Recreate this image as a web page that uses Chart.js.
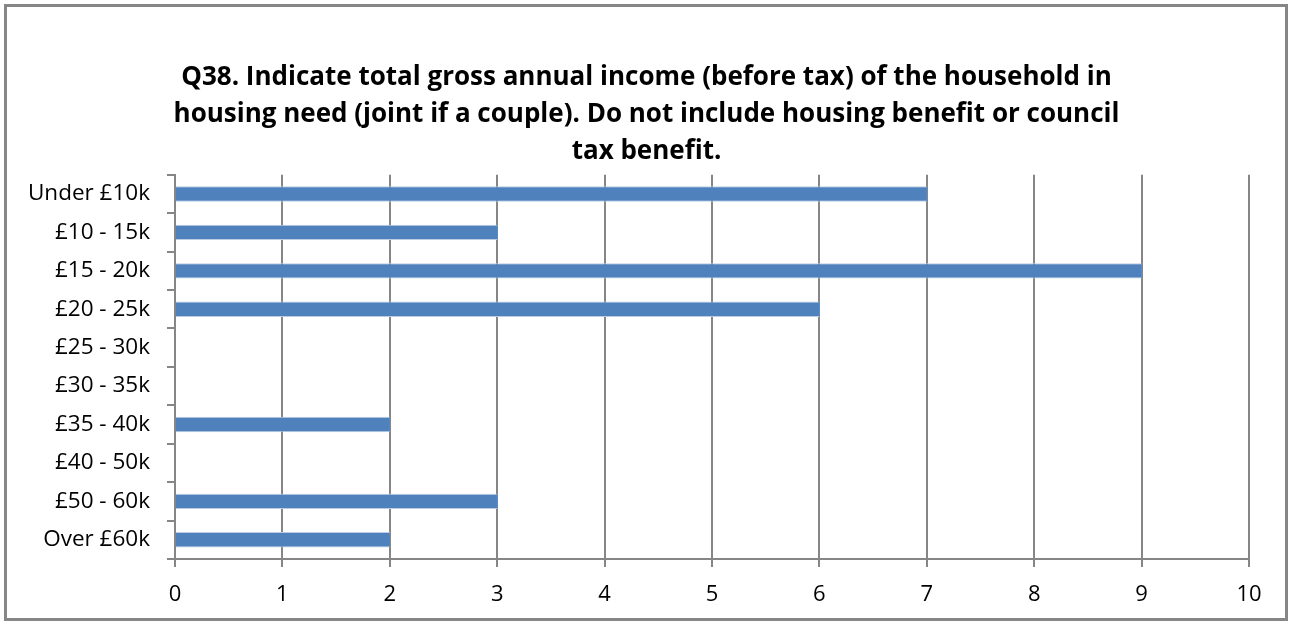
<!DOCTYPE html>
<html>
<head>
<meta charset="utf-8">
<script src="https://cdn.jsdelivr.net/npm/chart.js@4"></script>
<style>
  html, body { margin: 0; padding: 0; background: #fff; }
  #wrap { position: relative; width: 1293px; height: 626px; }
</style>
</head>
<body>
<div id="wrap"><canvas id="incomeChart" width="1293" height="626"></canvas></div>
<script>
const categories = ['Under £10k', '£10 - 15k', '£15 - 20k', '£20 - 25k', '£25 - 30k',
  '£30 - 35k', '£35 - 40k', '£40 - 50k', '£50 - 60k', 'Over £60k'];
const responses = [7, 3, 9, 6, 0, 0, 2, 0, 3, 2];
const axisMin = 0;
const axisMax = 10;
const titleLines = [
  'Q38. Indicate total gross annual income (before tax) of the household in',
  'housing need (joint if a couple). Do not include housing benefit or council',
  'tax benefit.'
];

const FONT = "'Open Sans', 'Noto Sans', sans-serif";
const GRID = '#868686';

// outer frame round the whole chart
const frame = {
  id: 'frame',
  afterDraw: function (chart) {
    const ctx = chart.ctx;
    ctx.save();
    ctx.strokeStyle = GRID;
    ctx.lineWidth = 3;
    ctx.strokeRect(5.5, 5.5, 1281, 614);
    ctx.restore();
  }
};

new Chart(document.getElementById('incomeChart'), {
  type: 'bar',
  data: {
    labels: categories,
    datasets: [{
      data: responses,
      backgroundColor: '#4F81BD',
      borderColor: '#BCCDE3',
      borderWidth: { top: 1, bottom: 1, left: 0, right: 0 },
      borderSkipped: false,
      barPercentage: 0.4,
      categoryPercentage: 1
    }]
  },
  options: {
    indexAxis: 'y',
    responsive: false,
    animation: false,
    layout: { padding: { left: 20, right: 20, top: 59, bottom: 17 } },
    plugins: {
      legend: { display: false },
      tooltip: { enabled: false },
      title: {
        display: true,
        text: titleLines,
        color: '#000',
        font: { family: FONT, size: 26, weight: 'bold', lineHeight: 1.42 },
        padding: { top: 0, bottom: 5 }
      }
    },
    scales: {
      x: {
        min: axisMin,
        max: axisMax,
        ticks: { stepSize: 1, color: '#000', font: { family: FONT, size: 22 }, padding: 15 },
        grid: { color: GRID, lineWidth: 2, tickLength: 8, drawOnChartArea: true },
        border: { color: GRID, width: 2 },
        afterFit: function (scale) { scale.height = 50; }
      },
      y: {
        ticks: { color: '#000', font: { family: FONT, size: 22.5 }, padding: 17 },
        grid: { offset: true, color: GRID, lineWidth: 2, tickLength: 8, drawOnChartArea: false },
        border: { color: GRID, width: 2 },
        afterFit: function (scale) { scale.width = 155; }
      },
      // empty right-hand spacer so the plot ends short of the frame
      spacer: {
        type: 'linear',
        position: 'right',
        ticks: { display: false },
        grid: { display: false },
        border: { display: false },
        afterFit: function (scale) { scale.width = 24; }
      }
    }
  },
  plugins: [frame]
});
</script>
</body>
</html>
